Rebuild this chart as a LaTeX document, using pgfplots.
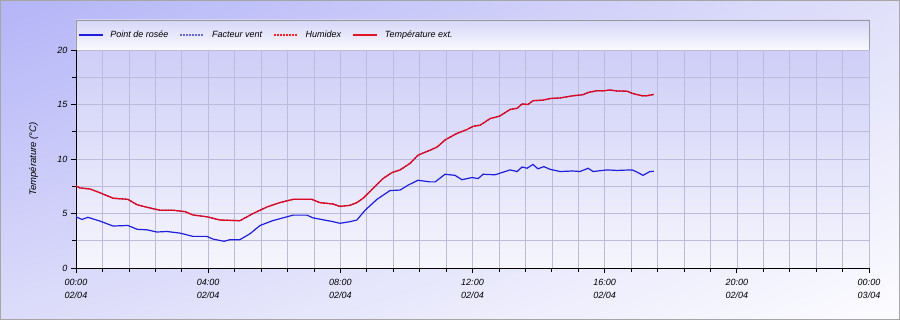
\documentclass[border=0pt]{standalone}
\usepackage{fontspec}
\setmainfont{Liberation Sans}
\usepackage{pgfplots}
\pgfplotsset{compat=1.18}
\usepackage{pgfplotstable}
\usetikzlibrary{shadings}
\definecolor{bgA}{RGB}{180,180,248}
\definecolor{bgB}{RGB}{224,224,250}
\definecolor{bgC}{RGB}{220,220,250}
\definecolor{bgD}{RGB}{252,252,255}
\definecolor{plotTop}{RGB}{206,206,248}
\definecolor{plotBot}{RGB}{246,246,253}
\definecolor{legTop}{RGB}{214,214,248}
\definecolor{legBot}{RGB}{250,250,255}
\definecolor{gridc}{RGB}{188,188,218}
\definecolor{dewblue}{RGB}{30,30,220}
\definecolor{tempred}{RGB}{225,20,40}

\pgfplotstableread{
h v
0 7.52
0.12 7.35
0.42 7.25
0.73 6.9
1.12 6.4
1.57 6.3
1.85 5.8
2.15 5.57
2.54 5.3
2.94 5.3
3.30 5.17
3.54 4.86
3.96 4.7
4.36 4.4
4.96 4.34
5.36 5.0
5.78 5.6
6.17 6.0
6.57 6.3
7.14 6.3
7.38 6.0
7.78 5.87
7.99 5.65
8.29 5.75
8.50 6.0
8.69 6.4
8.99 7.3
9.29 8.2
9.56 8.75
9.81 9.0
10.11 9.6
10.35 10.35
10.71 10.8
10.93 11.1
11.17 11.75
11.53 12.35
11.83 12.7
12.02 13.0
12.23 13.1
12.53 13.7
12.83 13.95
13.14 14.55
13.35 14.65
13.50 15.05
13.68 15.0
13.83 15.35
14.13 15.4
14.35 15.55
14.65 15.6
15.04 15.8
15.35 15.9
15.50 16.1
15.77 16.27
15.95 16.25
16.16 16.33
16.37 16.24
16.68 16.22
16.86 16.0
17.13 15.8
17.28 15.8
17.49 15.93
}\temptable

\pgfplotstableread{
h v
0 4.7
0.18 4.45
0.36 4.65
0.73 4.3
1.12 3.85
1.57 3.9
1.85 3.55
2.15 3.5
2.45 3.3
2.75 3.35
3.15 3.2
3.54 2.9
3.96 2.9
4.15 2.65
4.48 2.45
4.66 2.6
4.96 2.6
5.27 3.15
5.57 3.9
5.96 4.35
6.39 4.7
6.57 4.85
6.99 4.85
7.17 4.6
7.78 4.25
7.99 4.1
8.29 4.25
8.50 4.4
8.75 5.3
9.11 6.3
9.50 7.1
9.81 7.15
10.05 7.6
10.35 8.05
10.71 7.9
10.87 7.9
11.17 8.6
11.47 8.5
11.68 8.1
11.99 8.3
12.17 8.2
12.32 8.6
12.68 8.55
13.14 9.0
13.35 8.85
13.50 9.27
13.65 9.15
13.83 9.5
13.98 9.1
14.16 9.3
14.35 9.05
14.65 8.85
15.04 8.9
15.25 8.85
15.50 9.15
15.65 8.85
16.07 9.0
16.37 8.95
16.83 9.0
16.98 8.8
17.16 8.5
17.37 8.85
17.49 8.87
}\dewtable

\begin{document}
\begin{tikzpicture}[x=1pt,y=1pt]
\useasboundingbox (-76,-52) rectangle (824,268);
% outer background
\shade[upper left=bgA, upper right=bgB, lower left=bgC, lower right=bgD] (-76,-52) rectangle (824,268);
\draw[color=gray!70, line width=0.8pt] (-75.6,-51.6) rectangle (823.6,267.6);
% plot area
\shade[top color=plotTop, bottom color=plotBot] (0,0) rectangle (793,218);
% legend box
\shade[top color=legTop, bottom color=legBot] (0,218) rectangle (793,248);
\draw[color=gray!80, line width=0.6pt] (0,218) rectangle (793,248);
\draw[color=gray!80, line width=0.6pt] (793,0) -- (793,218);
\begin{axis}[
  at={(0,0)}, anchor=south west,
  scale only axis, width=793pt, height=218pt,
  xmin=0, xmax=24, ymin=0, ymax=20,
  axis x line*=bottom, axis y line*=left,
  axis line style={black, line width=0.8pt, -},
  xtick={0,4,8,12,16,20,24},
  xticklabels={{00:00\\02/04},{04:00\\02/04},{08:00\\02/04},{12:00\\02/04},{16:00\\02/04},{20:00\\02/04},{00:00\\03/04}},
  minor x tick num=4,
  ytick={0,5,10,15,20},
  minor y tick num=1,
  grid=both,
  major grid style={gridc, line width=0.6pt},
  minor grid style={gridc, line width=0.6pt},
  tick align=outside,
  major tick length=5pt, minor tick length=4pt,
  tick style={black, line width=0.7pt},
  /pgf/number format/assume math mode=true,
  xticklabel style={font=\itshape\fontsize{9}{13}\selectfont, align=center, yshift=-3pt},
  yticklabel style={font=\itshape\fontsize{9}{11}\selectfont},
  ylabel={Température (°C)},
  ylabel style={font=\itshape\fontsize{9.5}{11}\selectfont, at={(axis description cs:-0.0535,0.5)}, anchor=center},
  legend columns=4,
  legend style={draw=none, fill=none, at={(0,1)}, anchor=west, yshift=15pt, xshift=1pt,
    font=\itshape\fontsize{9}{11}\selectfont, inner xsep=1pt,
    /tikz/every odd column/.style={column sep=5pt},
    /tikz/every even column/.style={column sep=9.5pt}},
  legend image code/.code={\draw[#1] (0pt,0pt) -- (24pt,0pt);},
  clip=false,
]
\addplot[dewblue, line width=1.2pt] table[x=h,y=v] {\dewtable};
\addlegendentry{Point de rosée}
\addplot[tempred, line width=1.3pt, forget plot] table[x=h,y=v] {\temptable};
\addplot[color=blue!70!black, line width=1.1pt, dash pattern=on 1.5pt off 1.5pt, opacity=0.55] table[x=h,y=v] {\temptable};
\addlegendentry{Facteur vent}
\addplot[red, line width=1.1pt, dash pattern=on 1.5pt off 1.5pt, opacity=0.85] table[x=h,y=v] {\temptable};
\addlegendentry{Humidex}
\addlegendimage{tempred, line width=1.3pt}
\addlegendentry{Température ext.}
\end{axis}
\end{tikzpicture}
\end{document}
